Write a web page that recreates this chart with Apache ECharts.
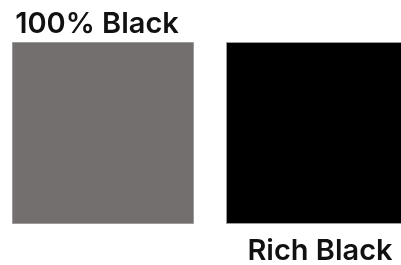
<!DOCTYPE html>
<html lang="en">
<head>
    <meta charset="UTF-8">
    <title>Black swatches</title>
    <script src="https://cdn.jsdelivr.net/npm/echarts@6/dist/echarts.min.js"></script>
    <style>
        html, body { margin: 0; padding: 0; background: #fff; }
    </style>
</head>
<body>
<div id="main" style="width: 401px; height: 265px;"></div>

<script>
    var categories = ['100% Black', 'Rich Black'];
    var xPos = [0, 1];
    var values = [1, 1];
    var colors = ['#736f6e', '#000000'];
    var labelPos = ['top', 'bottom'];

    var myChart = echarts.init(document.getElementById('main'));

    var data = [];
    for (var i = 0; i < categories.length; i++) {
        data.push({
            name: categories[i],
            value: [xPos[i], values[i]],
            itemStyle: {color: colors[i]},
            label: {
                position: labelPos[i],
                distance: i === 0 ? 3 : 13,
                offset: i === 0 ? [-6, 0] : [3, 0]
            }
        });
    }

    var option = {
        animation: false,
        grid: {left: 0, right: 0, top: 42, bottom: 41},
        xAxis: {
            type: 'value',
            min: -0.4813,
            max: 1.3925,
            show: false
        },
        yAxis: {
            type: 'value',
            min: 0,
            max: 1,
            show: false
        },
        series: [{
            type: 'bar',
            data: data,
            barWidth: 182,
            itemStyle: {borderColor: '#9a9a9a', borderWidth: 1},
            label: {
                show: true,
                formatter: function (p) { return p.name; },
                fontFamily: 'Inter',
                fontWeight: 600,
                fontSize: 29,
                color: '#111'
            }
        }]
    };

    myChart.setOption(option);
</script>
</body>
</html>
